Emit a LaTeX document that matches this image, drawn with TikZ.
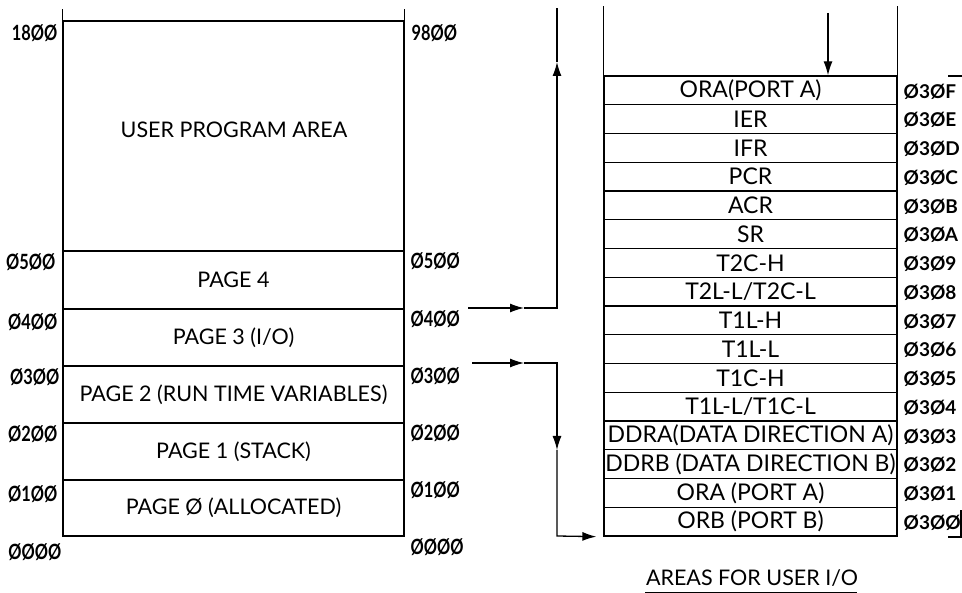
\documentclass[tikz,border=0pt]{standalone}
\usepackage{fontspec}
\setmainfont{Lato}
\usetikzlibrary{arrows.meta}
\newcommand\narrow[1]{\scalebox{0.78}[1]{#1}}
\begin{document}
\begin{tikzpicture}[x=1pt,y=-1pt,line width=1.3pt,
  txt/.style={font=\fontsize{21.5}{24}\selectfont,inner sep=0pt},
  num/.style={font=\fontsize{19}{22}\selectfont\bfseries,inner sep=0pt},
  lnum/.style={font=\fontsize{21}{24}\selectfont\bfseries,inner sep=0pt},
  lrow/.style={draw,minimum width=341pt,inner sep=0pt,font=\fontsize{21.5}{24}\selectfont},
  rrow/.style={draw,minimum width=293pt,minimum height=28.75pt,inner sep=0pt,font=\fontsize{23}{25}\selectfont},
  tip/.style={-{Latex[length=14pt,width=9pt]}}]
\useasboundingbox (0,0) rectangle (962,593);
% left memory map
\node[lrow,minimum height=230pt] (user) at (233.5,136) {};
\node[txt] (usert) at (234,130) {USER PROGRAM AREA};
\node[lrow,minimum height=58pt] (p4) at (233.5,280) {PAGE 4};
\node[lrow,minimum height=57pt] (p3) at (233.5,337.5) {PAGE 3 (I/O)};
\node[lrow,minimum height=57pt] (p2) at (233.5,394.5) {PAGE 2 (RUN TIME VARIABLES)};
\node[lrow,minimum height=57pt] (p1) at (233.5,451.5) {PAGE 1 (STACK)};
\node[lrow,minimum height=56pt] (p0) at (233.5,508) {PAGE Ø (ALLOCATED)};
\draw (user.north west) -- ++(0,-11);
\draw (user.north east) -- ++(0,-11);
% left addresses
\node[lnum,anchor=east] (l18) at (58,33) {\narrow{18ØØ}};
\node[lnum,anchor=east] (l05) at (56,262) {\narrow{Ø5ØØ}};
\node[lnum,anchor=east] (l04) at (58,322) {\narrow{Ø4ØØ}};
\node[lnum,anchor=east] (l03) at (60,377) {\narrow{Ø3ØØ}};
\node[lnum,anchor=east] (l02) at (58,434) {\narrow{Ø2ØØ}};
\node[lnum,anchor=east] (l01) at (58,494) {\narrow{Ø1ØØ}};
\node[lnum,anchor=east] (l00) at (62,552) {\narrow{ØØØØ}};
% right addresses of left map
\node[lnum,anchor=west] (m98) at (411,33) {\narrow{98ØØ}};
\node[lnum,anchor=west] (m05) at (410,261) {\narrow{Ø5ØØ}};
\node[lnum,anchor=west] (m04) at (410,319) {\narrow{Ø4ØØ}};
\node[lnum,anchor=west] (m03) at (410,376) {\narrow{Ø3ØØ}};
\node[lnum,anchor=west] (m02) at (410,433) {\narrow{Ø2ØØ}};
\node[lnum,anchor=west] (m01) at (410,490) {\narrow{Ø1ØØ}};
\node[lnum,anchor=west] (m00) at (410,547) {\narrow{ØØØØ}};
% right I/O map
\foreach \t/\a [count=\i from 0] in {ORA(PORT A)/Ø3ØF, IER/Ø3ØE, IFR/Ø3ØD, PCR/Ø3ØC, ACR/Ø3ØB, SR/Ø3ØA, T2C-H/Ø3Ø9, {T2L-L/T2C-L}/Ø3Ø8, T1L-H/Ø3Ø7, T1L-L/Ø3Ø6, T1C-H/Ø3Ø5, {T1L-L/T1C-L}/Ø3Ø4, DDRA(DATA DIRECTION A)/Ø3Ø3, DDRB (DATA DIRECTION B)/Ø3Ø2, ORA (PORT A)/Ø3Ø1, ORB (PORT B)/Ø3ØØ}
{
  \node[rrow] (r\i) at (750.5,{76+28.75*(\i+0.5)}) {\t};
  \node[num,anchor=west] (a\i) at (903,{76+28.75*(\i+0.5)+1}) {\a};
}
\draw (r0.north west) -- ++(0,-69);
\draw (r0.north east) -- ++(0,-69);
% top arrow into I/O map
\coordinate (topin) at (828,13);
\draw[tip] (topin) -- (topin |- r0.north);
% arrow from 0400 upwards
\coordinate (t4) at (468,308);
\coordinate (h4) at (524,308);
\coordinate (c4) at (557,308);
\coordinate (u4) at (557,62);
\coordinate (e4) at (557,8);
\draw[tip] (t4) -- (h4);
\draw[tip] (h4) -- (c4) -- (u4);
\draw (u4) -- (e4);
% arrow from 0300 downwards
\coordinate (t3) at (472,363);
\coordinate (h3) at (524,363);
\coordinate (c3) at (557,363);
\coordinate (d3) at (557,450);
\coordinate (b3) at (557,536);
\coordinate (e3) at ([xshift=-7pt]r15.south west);
\draw[tip] (t3) -- (h3);
\draw[tip] (h3) -- (c3) -- (d3);
\draw[tip] (d3) -- (b3) -- (e3);
% caption
\node[txt] (cap) at (752,578) {AREAS FOR USER I/O};
\coordinate (ul1) at (645,592);
\coordinate (ul2) at (857,592);
\draw[line width=1pt] (ul1) -- (ul2);
% fragments at right edge
\coordinate (f1) at (948,76);
\coordinate (f2) at (962,76);
\draw (f1) -- (f2);
\coordinate (g1) at (948,537);
\coordinate (g2) at (961,537);
\coordinate (g3) at (961,510);
\draw (g1) -- (g2) -- (g3);
\end{tikzpicture}
\end{document}
